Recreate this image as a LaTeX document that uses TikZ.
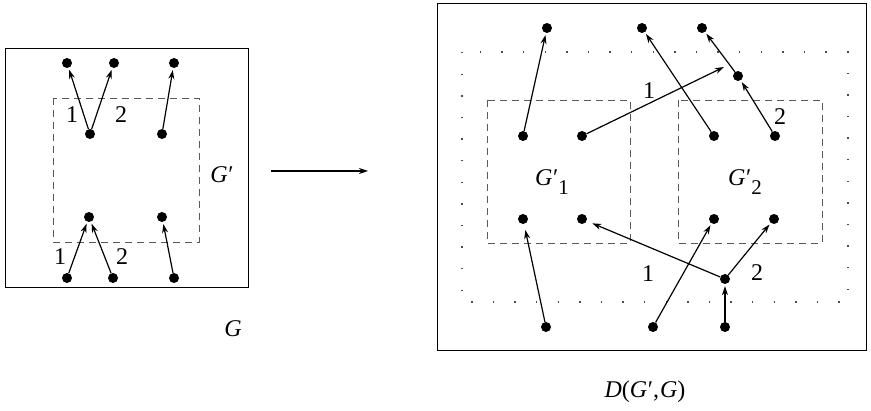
\documentclass[tikz,border=0pt]{standalone}
\usepackage{fontspec}
\setmainfont{Liberation Serif}
\usetikzlibrary{arrows.meta}
\newcommand{\Gp}{\textit{G}\kern0.5pt′}
\newcommand{\sbx}[1]{\raisebox{-9pt}{\fontsize{21}{24}\selectfont #1}}
\begin{document}
\begin{tikzpicture}[x=1pt,y=-1pt,
  dot/.style={circle,fill=black,inner sep=0pt,minimum size=10pt},
  arr/.style={line width=1.2pt,-{Stealth[length=9pt,width=6pt]},shorten >=2pt},
  frame/.style={line width=1pt},
  dashbox/.style={line width=0.9pt,dash pattern=on 7pt off 5pt,gray!70!black},
  dotbox/.style={line width=1.5pt,dash pattern=on 1.4pt off 20.2pt,line cap=butt,gray!60!black},
  lbl/.style={font=\fontsize{24}{28}\selectfont,inner sep=0pt}]
\useasboundingbox (0,0) rectangle (871,411);
% ---------- left graph G ----------
\draw[frame] (5,49) rectangle (248,288);
\draw[dashbox] (53,98) rectangle (199,242);
\node[dot] (a1) at (67,63) {};
\node[dot] (a2) at (114,63) {};
\node[dot] (a3) at (174,63) {};
\node[dot] (b1) at (90,134) {};
\node[dot] (b2) at (162,134) {};
\node[dot] (c1) at (89,217) {};
\node[dot] (c2) at (162,217) {};
\node[dot] (d1) at (67,278) {};
\node[dot] (d2) at (113,278) {};
\node[dot] (d3) at (174,278) {};
\draw[arr] (b1) -- (a1);
\draw[arr] (b1) -- (a2);
\draw[arr] (b2) -- (a3);
\draw[arr] (d1) -- (c1);
\draw[arr] (d2) -- (c1);
\draw[arr] (d3) -- (c2);
\node[lbl] (l1) at (72,115) {1};
\node[lbl] (l2) at (121,115) {2};
\node[lbl] (l3) at (60,257) {1};
\node[lbl] (l4) at (122,257) {2};
\node[lbl] (gp) at (222,175) {\Gp};
\node[lbl] (g) at (233,329) {\textit{G}};
% ---------- transformation arrow ----------
\coordinate (t1) at (271,171);
\coordinate (t2) at (368,171);
\draw[line width=1.1pt,-{Stealth[length=9pt,width=6pt]}] (t1) -- (t2);
% ---------- right graph D(G',G) ----------
\draw[frame] (437,4) rectangle (866,351);
\draw[dotbox] (462,52) rectangle (848,302);
\draw[dashbox] (487,100) rectangle (630,243);
\draw[dashbox] (678,100) rectangle (822,243);
\node[dot] (p1) at (547,28) {};
\node[dot] (p2) at (642,28) {};
\node[dot] (p3) at (702,28) {};
\node[dot] (q) at (738,76) {};
\node[dot] (r1) at (523,136) {};
\node[dot] (r2) at (582,136) {};
\node[dot] (r3) at (714,136) {};
\node[dot] (r4) at (775,136) {};
\node[dot] (s1) at (523,219) {};
\node[dot] (s2) at (582,219) {};
\node[dot] (s3) at (714,219) {};
\node[dot] (s4) at (774,219) {};
\node[dot] (m) at (725,279) {};
\node[dot] (u1) at (546,327) {};
\node[dot] (u2) at (653,327) {};
\node[dot] (u3) at (725,327) {};
\coordinate (free) at (724,67);
\draw[arr] (r1) -- (p1);
\draw[arr,shorten >=0pt] (r2) -- (free);
\draw[arr] (r3) -- (p2);
\draw[arr] (r4) -- (q);
\draw[arr] (q) -- (p3);
\draw[arr,shorten >=6pt] (u1) -- (s1);
\draw[arr] (u2) -- (s3);
\draw[arr,shorten >=6pt] (m) -- (s2);
\draw[arr] (m) -- (s4);
\draw[arr] (u3) -- (m);
\node[lbl] (k1) at (649,91) {1};
\node[lbl] (k2) at (780,117) {2};
\node[lbl] (k3) at (648,274) {1};
\node[lbl] (k4) at (757,273) {2};
\node[lbl] (h1) at (552,182) {\Gp\sbx{1}};
\node[lbl] (h2) at (745,182) {\Gp\sbx{2}};
\node[lbl] (dl) at (645,392) {\textit{D}(\Gp,\kern1pt\textit{G})};
\end{tikzpicture}
\end{document}
